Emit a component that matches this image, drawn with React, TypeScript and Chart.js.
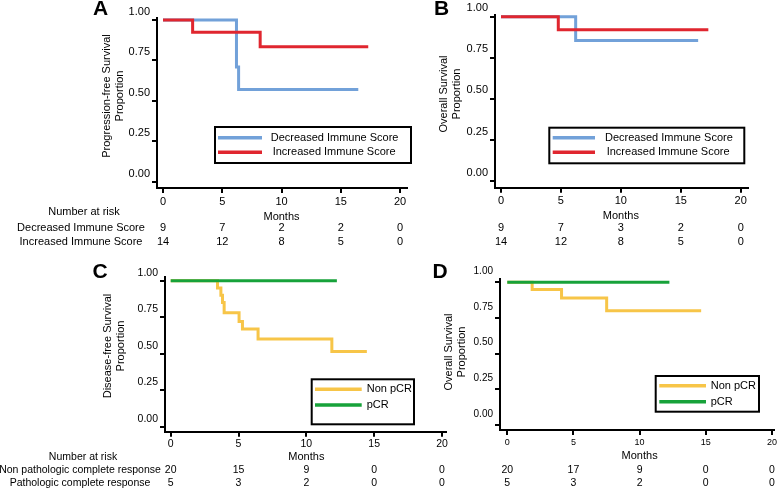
import React, { useEffect, useRef } from 'react';
import { Chart, registerables } from 'chart.js';

Chart.register(...registerables);

// ---------- data ----------
const monthTicks = [0, 5, 10, 15, 20];
const survivalTicks = [0, 0.25, 0.5, 0.75, 1];

// Panel A – progression-free survival by immune score change
const pfsDecreasedTimes = [0, 6.2, 6.38, 16.48];
const pfsDecreasedSurv = [1, 0.71, 0.57, 0.57];
const pfsIncreasedTimes = [0, 2.5, 8.2, 17.32];
const pfsIncreasedSurv = [1, 0.925, 0.835, 0.835];
const pfsRiskDecreased = [9, 7, 2, 2, 0];
const pfsRiskIncreased = [14, 12, 8, 5, 0];

// Panel B – overall survival by immune score change
const osImmDecreasedTimes = [0, 6.23, 16.45];
const osImmDecreasedSurv = [1, 0.855, 0.855];
const osImmIncreasedTimes = [0, 4.78, 17.3];
const osImmIncreasedSurv = [1, 0.92, 0.92];
const osRiskDecreased = [9, 7, 3, 2, 0];
const osRiskIncreased = [14, 12, 8, 5, 0];

// Panel C – disease-free survival by pCR
const dfsNonPcrTimes = [0, 3.45, 3.7, 3.82, 3.94, 5.04, 5.29, 6.44, 11.88, 14.46];
const dfsNonPcrSurv = [1, 0.95, 0.9, 0.85, 0.78, 0.72, 0.67, 0.6, 0.515, 0.515];
const dfsPcrTimes = [0, 12.25];
const dfsPcrSurv = [1, 1];
const dfsRiskNonPcr = [20, 15, 9, 0, 0];
const dfsRiskPcr = [5, 3, 2, 0, 0];

// Panel D – overall survival by pCR
const osNonPcrTimes = [0, 1.88, 4.1, 7.51, 14.65];
const osNonPcrSurv = [1, 0.95, 0.89, 0.8, 0.8];
const osPcrTimes = [0, 12.25];
const osPcrSurv = [1, 1];
const osRiskNonPcr = [20, 17, 9, 0, 0];
const osRiskPcr = [5, 3, 2, 0, 0];

// ---------- styles / layout ----------
const FONT = '"Liberation Sans", Arial, Helvetica, sans-serif';
const BLUE = '#72a1d9';
const RED = '#e0262f';
const YELLOW = '#f7c548';
const GREEN = '#17a23a';
const W = 779;
const H = 489;

type Series = { label: string; times: number[]; surv: number[]; color: string; order: number };
type Panel = {
  letter: string; letterX: number; letterY: number;
  series: Series[];
  area: { left: number; right: number; top: number; bottom: number };
  x0: number; x20: number; y1: number; y0: number;
  yTitle: string[]; yTitleX: number; yTitleY: number; yTitleGap: number;
  yTickFont: number; xTickFont: number; xTickPad: number; yLabelOffset: number;
  monthsY: number;
  riskHeaderY?: number; riskLabelX: number; riskLabels?: string[]; riskValues: number[][]; riskRowY: number[]; riskFont: number;
  legendBox: [number, number, number, number]; legendLine: [number, number]; legendRowY: number[]; legendTextX: number[];
};

const panels: Panel[] = [
  {
    letter: 'A', letterX: 100.5, letterY: 15,
    series: [
      { label: 'Decreased Immune Score', times: pfsDecreasedTimes, surv: pfsDecreasedSurv, color: BLUE, order: 1 },
      { label: 'Increased Immune Score', times: pfsIncreasedTimes, surv: pfsIncreasedSurv, color: RED, order: 0 },
    ],
    area: { left: 157, right: 407, top: 18, bottom: 188 },
    x0: 163, x20: 400, y1: 20, y0: 181.7,
    yTitle: ['Progression-free Survival', 'Proportion'], yTitleX: 107, yTitleY: 96, yTitleGap: 13,
    yTickFont: 11, xTickFont: 11, xTickPad: 2, yLabelOffset: -8,
    monthsY: 217,
    riskHeaderY: 212, riskLabelX: 81, riskLabels: ['Decreased Immune Score', 'Increased Immune Score'],
    riskValues: [pfsRiskDecreased, pfsRiskIncreased], riskRowY: [228, 242], riskFont: 11,
    legendBox: [215, 127, 411, 163], legendLine: [218, 262], legendRowY: [137.7, 152.3], legendTextX: [270.7, 272.7],
  },
  {
    letter: 'B', letterX: 441.5, letterY: 15,
    series: [
      { label: 'Decreased Immune Score', times: osImmDecreasedTimes, surv: osImmDecreasedSurv, color: BLUE, order: 1 },
      { label: 'Increased Immune Score', times: osImmIncreasedTimes, surv: osImmIncreasedSurv, color: RED, order: 0 },
    ],
    area: { left: 495, right: 748, top: 15, bottom: 187.7 },
    x0: 501, x20: 740.7, y1: 16.7, y0: 181,
    yTitle: ['Overall Survival', 'Proportion'], yTitleX: 444, yTitleY: 94, yTitleGap: 13,
    yTickFont: 11, xTickFont: 11, xTickPad: 2, yLabelOffset: -8.4,
    monthsY: 216,
    riskLabelX: 0, riskValues: [osRiskDecreased, osRiskIncreased], riskRowY: [228, 242], riskFont: 11,
    legendBox: [549.3, 127.7, 744.3, 163.3], legendLine: [552.7, 595], legendRowY: [137.7, 152.3], legendTextX: [605, 606.7],
  },
  {
    letter: 'C', letterX: 100, letterY: 278,
    series: [
      { label: 'Non pCR', times: dfsNonPcrTimes, surv: dfsNonPcrSurv, color: YELLOW, order: 1 },
      { label: 'pCR', times: dfsPcrTimes, surv: dfsPcrSurv, color: GREEN, order: 0 },
    ],
    area: { left: 165, right: 446, top: 277, bottom: 431.7 },
    x0: 170.7, x20: 442, y1: 280.7, y0: 426.7,
    yTitle: ['Disease-free Survival', 'Proportion'], yTitleX: 108, yTitleY: 346, yTitleGap: 12.5,
    yTickFont: 10.5, xTickFont: 10.5, xTickPad: 1, yLabelOffset: -8,
    monthsY: 457,
    riskHeaderY: 457, riskLabelX: 80, riskLabels: ['Non pathologic complete response', 'Pathologic complete response'],
    riskValues: [dfsRiskNonPcr, dfsRiskPcr], riskRowY: [470, 483], riskFont: 10.5,
    legendBox: [311.7, 379.3, 414, 424.3], legendLine: [315, 361.7], legendRowY: [389.3, 405], legendTextX: [366.7, 366.7],
  },
  {
    letter: 'D', letterX: 440, letterY: 278,
    series: [
      { label: 'Non pCR', times: osNonPcrTimes, surv: osNonPcrSurv, color: YELLOW, order: 1 },
      { label: 'pCR', times: osPcrTimes, surv: osPcrSurv, color: GREEN, order: 0 },
    ],
    area: { left: 500, right: 775, top: 279, bottom: 430 },
    x0: 507.3, x20: 772.7, y1: 282.3, y0: 425,
    yTitle: ['Overall Survival', 'Proportion'], yTitleX: 449, yTitleY: 352, yTitleGap: 12.5,
    yTickFont: 10, xTickFont: 9, xTickPad: 2, yLabelOffset: -11,
    monthsY: 456,
    riskLabelX: 0, riskValues: [osRiskNonPcr, osRiskPcr], riskRowY: [470, 483], riskFont: 10.5,
    legendBox: [655.7, 376, 759, 411.7], legendLine: [659.3, 706], legendRowY: [385.7, 401.7], legendTextX: [710.7, 710.7],
  },
];

function annotationPlugin(p: Panel) {
  return {
    id: 'annot' + p.letter,
    afterDraw(chart: any) {
      const ctx: CanvasRenderingContext2D = chart.ctx;
      const xs = chart.scales.x;
      ctx.save();
      ctx.fillStyle = '#000';
      // panel letter
      ctx.font = `bold 21px ${FONT}`;
      ctx.textAlign = 'center';
      ctx.textBaseline = 'alphabetic';
      ctx.fillText(p.letter, p.letterX, p.letterY);
      // y-axis title
      ctx.font = `11px ${FONT}`;
      ctx.textBaseline = 'middle';
      p.yTitle.forEach((t, i) => {
        ctx.save();
        ctx.translate(p.yTitleX + i * p.yTitleGap, p.yTitleY);
        ctx.rotate(-Math.PI / 2);
        ctx.fillText(t, 0, 0);
        ctx.restore();
      });
      // x-axis title
      ctx.font = `11px ${FONT}`;
      ctx.fillText('Months', xs.getPixelForValue(10), p.monthsY);
      // number at risk table
      ctx.font = `${p.riskFont}px ${FONT}`;
      if (p.riskHeaderY !== undefined) ctx.fillText('Number at risk', p.riskLabelX + 3, p.riskHeaderY);
      p.riskValues.forEach((row, r) => {
        if (p.riskLabels) ctx.fillText(p.riskLabels[r], p.riskLabelX, p.riskRowY[r]);
        row.forEach((v, i) => ctx.fillText(String(v), xs.getPixelForValue(monthTicks[i]), p.riskRowY[r]));
      });
      // legend
      const [l, t, r, b] = p.legendBox;
      ctx.lineWidth = 2;
      ctx.strokeStyle = '#000';
      ctx.strokeRect(l, t, r - l, b - t);
      ctx.font = `11px ${FONT}`;
      ctx.textAlign = 'left';
      p.series.forEach((s, i) => {
        ctx.beginPath();
        ctx.strokeStyle = s.color;
        ctx.lineWidth = 3.5;
        ctx.moveTo(p.legendLine[0], p.legendRowY[i]);
        ctx.lineTo(p.legendLine[1], p.legendRowY[i]);
        ctx.stroke();
        ctx.fillText(s.label, p.legendTextX[i], p.legendRowY[i]);
      });
      ctx.restore();
    },
  };
}

function buildChart(canvas: HTMLCanvasElement, p: Panel) {
  const ppuX = (p.x20 - p.x0) / 20;
  const xMin = -(p.x0 - p.area.left) / ppuX;
  const xMax = (p.area.right - p.x0) / ppuX;
  const ppuY = p.y0 - p.y1;
  const yMax = 1 + (p.y1 - p.area.top) / ppuY;
  const yMin = -(p.area.bottom - p.y0) / ppuY;
  const yWidth = 60;
  const xHeight = 20;
  return new Chart(canvas, {
    type: 'line',
    data: {
      datasets: p.series.map((s) => ({
        label: s.label,
        data: s.times.map((t, i) => ({ x: t, y: s.surv[i] })),
        borderColor: s.color,
        backgroundColor: s.color,
        borderWidth: 3,
        stepped: true,
        pointRadius: 0,
        fill: false,
        clip: false,
        order: s.order,
      })),
    },
    options: {
      responsive: false,
      animation: false,
      events: [],
      layout: {
        padding: {
          left: p.area.left - yWidth,
          right: W - p.area.right,
          top: p.area.top,
          bottom: H - p.area.bottom - xHeight,
        },
      },
      plugins: { legend: { display: false }, tooltip: { enabled: false }, title: { display: false } },
      scales: {
        x: {
          type: 'linear',
          min: xMin,
          max: xMax,
          afterBuildTicks: (ax: any) => { ax.ticks = monthTicks.map((v) => ({ value: v })); },
          afterFit: (s: any) => { s.height = xHeight; },
          grid: { drawOnChartArea: false, drawTicks: true, tickLength: 5, color: '#000', lineWidth: 2 },
          border: { display: true, color: '#000', width: 2 },
          ticks: { color: '#000', font: { family: FONT, size: p.xTickFont }, padding: p.xTickPad, maxRotation: 0, autoSkip: false },
        },
        y: {
          type: 'linear',
          min: yMin,
          max: yMax,
          afterBuildTicks: (ax: any) => { ax.ticks = survivalTicks.map((v) => ({ value: v })); },
          afterFit: (s: any) => { s.width = yWidth; },
          grid: { drawOnChartArea: false, drawTicks: true, tickLength: 5, color: '#000', lineWidth: 2 },
          border: { display: true, color: '#000', width: 2 },
          ticks: {
            color: '#000',
            font: { family: FONT, size: p.yTickFont },
            padding: 2,
            labelOffset: p.yLabelOffset,
            autoSkip: false,
            callback: (v: any) => Number(v).toFixed(2),
          },
        },
      },
    },
    plugins: [annotationPlugin(p)],
  } as any);
}

export default function App() {
  const refs = useRef<(HTMLCanvasElement | null)[]>([]);
  useEffect(() => {
    const charts = panels.map((p, i) => buildChart(refs.current[i] as HTMLCanvasElement, p));
    return () => charts.forEach((c) => c.destroy());
  }, []);
  return (
    <div style={{ position: 'absolute', left: 0, top: 0, width: W, height: H, background: '#fff', overflow: 'hidden' }}>
      {panels.map((p, i) => (
        <canvas
          key={p.letter}
          ref={(el) => { refs.current[i] = el; }}
          width={W}
          height={H}
          style={{ position: 'absolute', left: 0, top: 0 }}
        />
      ))}
    </div>
  );
}
